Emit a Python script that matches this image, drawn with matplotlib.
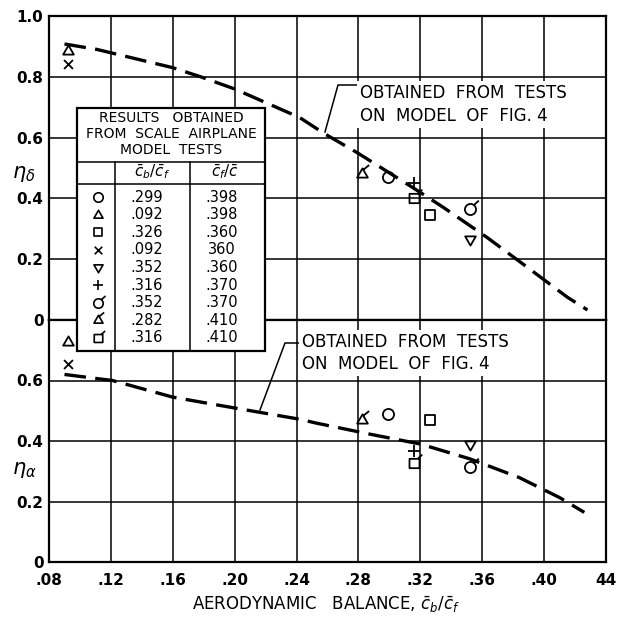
import numpy as np
import matplotlib
matplotlib.use("Agg")
import matplotlib.pyplot as plt
from matplotlib.path import Path
from matplotlib.patches import Rectangle

# ---------------- data ----------------
x_ticks = [0.08, 0.12, 0.16, 0.20, 0.24, 0.28, 0.32, 0.36, 0.40, 0.44]
x_tick_labels = [".08", ".12", ".16", ".20", ".24", ".28", ".32", ".36", ".40", "44"]
top_yticks = [0, 0.2, 0.4, 0.6, 0.8, 1.0]
top_ytick_labels = ["0", "0.2", "0.4", "0.6", "0.8", "1.0"]
bot_yticks = [0, 0.2, 0.4, 0.6]
bot_ytick_labels = ["0", "0.2", "0.4", "0.6"]

# model-test series (order as in the table)
table_cb_cf = [".299", ".092", ".326", ".092", ".352", ".316", ".352", ".282", ".316"]
table_cf_c = [".398", ".398", ".360", "360", ".360", ".370", ".370", ".410", ".410"]
balance = [0.299, 0.092, 0.326, 0.092, 0.352, 0.316, 0.352, 0.282, 0.316]
eta_delta = [0.469, 0.885, 0.344, 0.843, 0.265, 0.452, 0.364, 0.480, 0.400]
eta_alpha = [0.488, 0.728, 0.469, 0.656, 0.390, 0.367, 0.315, 0.469, 0.328]

# faired curves from tests on model of Fig. 4
curve_d_x = [0.090, 0.111, 0.160, 0.178, 0.200, 0.242, 0.258, 0.279, 0.315, 0.335, 0.363, 0.389, 0.415, 0.428]
curve_d_y = [0.908, 0.890, 0.830, 0.800, 0.760, 0.666, 0.613, 0.551, 0.436, 0.370, 0.272, 0.174, 0.075, 0.033]
curve_a_x = [0.090, 0.121, 0.160, 0.199, 0.242, 0.252, 0.287, 0.320, 0.352, 0.384, 0.410, 0.426]
curve_a_y = [0.620, 0.600, 0.545, 0.510, 0.472, 0.460, 0.423, 0.390, 0.341, 0.279, 0.213, 0.164]

annotation_text = "OBTAINED  FROM  TESTS\nON  MODEL  OF  FIG. 4"

# ---------------- markers ----------------
def compound(*paths):
    return Path.make_compound_path(*paths)

circ = Path(Path.unit_circle().vertices * 0.5, Path.unit_circle().codes)
tri = Path([(0, 0.55), (-0.48, -0.28), (0.48, -0.28), (0, 0.55)],
           [Path.MOVETO, Path.LINETO, Path.LINETO, Path.CLOSEPOLY])
dtri = Path([(0, -0.55), (-0.48, 0.28), (0.48, 0.28), (0, -0.55)],
            [Path.MOVETO, Path.LINETO, Path.LINETO, Path.CLOSEPOLY])
sq = Path([(-0.45, -0.42), (0.45, -0.42), (0.45, 0.42), (-0.45, 0.42), (-0.45, -0.42)],
          [Path.MOVETO, Path.LINETO, Path.LINETO, Path.LINETO, Path.CLOSEPOLY])
xm = compound(Path([(-0.4, -0.4), (0.4, 0.4)], [Path.MOVETO, Path.LINETO]),
              Path([(-0.4, 0.4), (0.4, -0.4)], [Path.MOVETO, Path.LINETO]))
pm = compound(Path([(-0.5, 0), (0.5, 0)], [Path.MOVETO, Path.LINETO]),
              Path([(0, -0.5), (0, 0.5)], [Path.MOVETO, Path.LINETO]))

def flag(p0, p1):
    return Path([p0, p1], [Path.MOVETO, Path.LINETO])

circ_f = compound(circ, flag((0.3, 0.4), (0.75, 0.8)))
tri_f = compound(tri, flag((0.1, 0.45), (0.6, 0.85)))
sq_f = compound(sq, flag((0.3, 0.42), (0.7, 0.8)))

marker_paths = [circ, tri, sq, xm, dtri, pm, circ_f, tri_f, sq_f]
BASE_MS = 8

def ms_for(p):
    return BASE_MS * 2 * np.max(np.abs(p.vertices))

# ---------------- figure ----------------
fig = plt.figure(figsize=(6.23, 6.24), dpi=100)
W, H = 623, 624
L, R = 49, 606
ax_top = fig.add_axes([L / W, 1 - 320 / H, (R - L) / W, (320 - 16) / H])
ax_bot = fig.add_axes([L / W, 1 - 562 / H, (R - L) / W, (562 - 320) / H])

for ax in (ax_top, ax_bot):
    ax.set_xlim(0.08, 0.44)
    ax.set_xticks(x_ticks)
    ax.grid(True, color="black", linewidth=1.1)
    ax.set_axisbelow(True)
    ax.tick_params(length=0, labelsize=11, pad=4)
    for s in ax.spines.values():
        s.set_linewidth(1.6)

ax_top.set_ylim(0, 1.0)
ax_top.set_yticks(top_yticks)
ax_top.set_yticklabels(top_ytick_labels, fontweight="bold")
ax_top.set_xticklabels([])

ax_bot.set_ylim(0, 0.8)
ax_bot.set_yticks(bot_yticks + [0.8])
ax_bot.set_yticklabels(bot_ytick_labels + [""], fontweight="bold")
ax_bot.set_xticklabels(x_tick_labels, fontweight="bold")
ax_bot.tick_params(axis="x", pad=8)

dash = dict(color="black", linewidth=2.4, dashes=(6.5, 2.8), solid_capstyle="butt", dash_capstyle="butt")
ax_top.plot(curve_d_x, curve_d_y, **dash)
ax_bot.plot(curve_a_x, curve_a_y, **dash)

for xv, yd, ya, mp in zip(balance, eta_delta, eta_alpha, marker_paths):
    for ax, yv in ((ax_top, yd), (ax_bot, ya)):
        ax.plot([xv], [yv], linestyle="none", marker=mp, markersize=ms_for(mp),
                markerfacecolor="none", markeredgecolor="black", markeredgewidth=1.3)

ax_top.text(-0.045, 0.48, r"$\eta_\delta$", transform=ax_top.transAxes, fontsize=15,
            ha="center", va="center")
ax_bot.text(-0.045, 0.38, r"$\eta_\alpha$", transform=ax_bot.transAxes, fontsize=15,
            ha="center", va="center")
fig.text(326 / W, 1 - 605 / H, r"AERODYNAMIC   BALANCE, $\bar{c}_b/\bar{c}_f$",
         ha="center", va="center", fontsize=12)

# ---------------- overlay: table + annotations ----------------
ov = fig.add_axes([0, 0, 1, 1], zorder=10)
ov.set_xlim(0, W)
ov.set_ylim(H, 0)
ov.set_axis_off()
ov.patch.set_alpha(0)

tx0, tx1, ty0, ty1 = 77, 265, 108, 351
ov.add_patch(Rectangle((tx0, ty0), tx1 - tx0, ty1 - ty0, facecolor="white",
                       edgecolor="black", linewidth=1.6))
lw = 1.1
ov.plot([tx0, tx1], [162, 162], color="black", lw=lw)
ov.plot([tx0, tx1], [184, 184], color="black", lw=lw)
ov.plot([115, 115], [162, ty1], color="black", lw=lw)
ov.plot([190, 190], [162, ty1], color="black", lw=lw)
fs = 10
ov.text(171, 118, "RESULTS   OBTAINED", ha="center", va="center", fontsize=fs)
ov.text(171, 134, "FROM  SCALE  AIRPLANE", ha="center", va="center", fontsize=fs)
ov.text(171, 150, "MODEL  TESTS", ha="center", va="center", fontsize=fs)
ov.text(152, 172, r"$\bar{c}_b/\bar{c}_f$", ha="center", va="center", fontsize=11)
ov.text(225, 172, r"$\bar{c}_f/\bar{c}$", ha="center", va="center", fontsize=11)
for i, (a, b, mp) in enumerate(zip(table_cb_cf, table_cf_c, marker_paths)):
    yy = 197 + 17.6 * i
    ov.plot([98], [yy], linestyle="none", marker=mp, markersize=ms_for(mp) * 0.85,
            markerfacecolor="none", markeredgecolor="black", markeredgewidth=1.2)
    ov.text(147, yy, a, ha="center", va="center", fontsize=10.5)
    ov.text(222, yy, b, ha="center", va="center", fontsize=10.5)

# annotation leaders
ov.plot([357, 338, 325], [85, 85, 132], color="black", lw=1.1)
ov.plot([300, 285, 260], [343, 343, 410], color="black", lw=1.1)
afs = 12
bb = dict(facecolor="white", edgecolor="none", pad=2.0)
ov.text(360, 104.5, annotation_text, ha="left", va="center", fontsize=afs, bbox=bb,
        linespacing=1.35)
ov.text(302, 353, annotation_text, ha="left", va="center", fontsize=afs, bbox=bb,
        linespacing=1.35)

fig.savefig("out.png", dpi=100)
